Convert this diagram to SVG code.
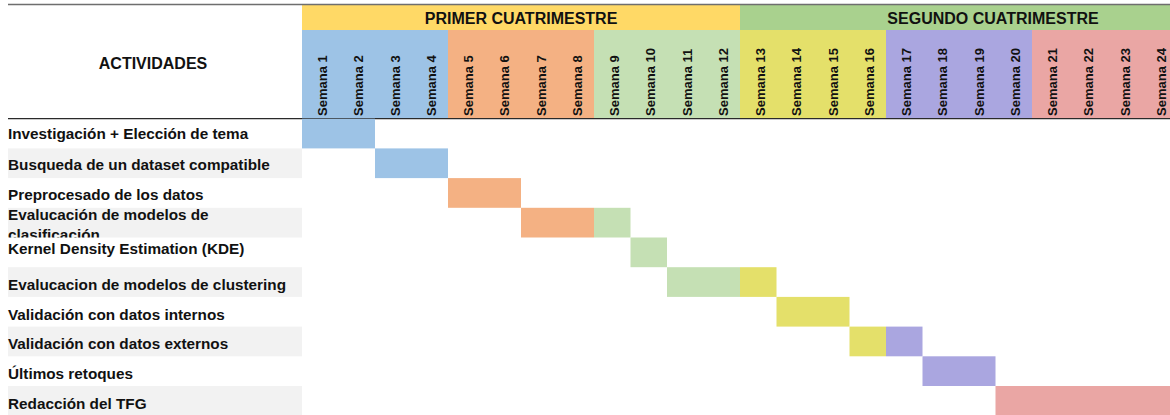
<svg xmlns="http://www.w3.org/2000/svg" width="1170" height="415" viewBox="0 0 1170 415">
<style>
  .lbl{font-family:"Liberation Sans",Arial,sans-serif;font-weight:bold;font-size:15.3px;fill:#111}
  .hdr{font-family:"Liberation Sans",Arial,sans-serif;font-weight:bold;font-size:16px;fill:#111}
  .wk{font-family:"Liberation Sans",Arial,sans-serif;font-weight:bold;font-size:13px;fill:#111}
  .stripe{fill:#f2f2f2}
  .blue{fill:#9dc3e6}
  .orange{fill:#f4b183}
  .lgreen{fill:#c5e0b4}
  .yellow{fill:#e4e06a}
  .purple{fill:#aaa6e0}
  .pink{fill:#eaa6a4}
</style>
<defs>
  <clipPath id="clipR4"><rect x="0" y="207.8" width="302" height="29.7"/></clipPath>
</defs>
<rect x="0" y="0" width="1170" height="415" fill="#ffffff"/>

<g id="header">
  <rect x="302" y="5" width="438" height="25" fill="#ffd966"/>
  <rect x="740" y="5" width="438" height="25" fill="#a9d18e"/>
  <rect class="blue" x="302" y="30" width="146" height="89"/>
  <rect class="orange" x="448" y="30" width="146" height="89"/>
  <rect class="lgreen" x="594" y="30" width="146" height="89"/>
  <rect class="yellow" x="740" y="30" width="146" height="89"/>
  <rect class="purple" x="886" y="30" width="146" height="89"/>
  <rect class="pink" x="1032" y="30" width="146" height="89"/>
  <line x1="8" y1="4.5" x2="1170" y2="4.5" stroke="#6e6e6e" stroke-width="1.6"/>
  <line x1="8" y1="118.6" x2="1170" y2="118.6" stroke="#2a2a2a" stroke-width="1.2"/>
  <text class="hdr" x="153" y="69" text-anchor="middle">ACTIVIDADES</text>
  <text class="hdr" x="521" y="23.5" text-anchor="middle">PRIMER CUATRIMESTRE</text>
  <text class="hdr" x="993" y="23.5" text-anchor="middle">SEGUNDO CUATRIMESTRE</text>
  <g class="wk">
    <text transform="translate(326.5,116) rotate(-90)">Semana 1</text>
    <text transform="translate(363,116) rotate(-90)">Semana 2</text>
    <text transform="translate(399.5,116) rotate(-90)">Semana 3</text>
    <text transform="translate(436,116) rotate(-90)">Semana 4</text>
    <text transform="translate(472.5,116) rotate(-90)">Semana 5</text>
    <text transform="translate(509,116) rotate(-90)">Semana 6</text>
    <text transform="translate(545.5,116) rotate(-90)">Semana 7</text>
    <text transform="translate(582,116) rotate(-90)">Semana 8</text>
    <text transform="translate(618.5,116) rotate(-90)">Semana 9</text>
    <text transform="translate(655,116) rotate(-90)">Semana 10</text>
    <text transform="translate(691.5,116) rotate(-90)">Semana 11</text>
    <text transform="translate(728,116) rotate(-90)">Semana 12</text>
    <text transform="translate(764.5,116) rotate(-90)">Semana 13</text>
    <text transform="translate(801,116) rotate(-90)">Semana 14</text>
    <text transform="translate(837.5,116) rotate(-90)">Semana 15</text>
    <text transform="translate(874,116) rotate(-90)">Semana 16</text>
    <text transform="translate(910.5,116) rotate(-90)">Semana 17</text>
    <text transform="translate(947,116) rotate(-90)">Semana 18</text>
    <text transform="translate(983.5,116) rotate(-90)">Semana 19</text>
    <text transform="translate(1020,116) rotate(-90)">Semana 20</text>
    <text transform="translate(1056.5,116) rotate(-90)">Semana 21</text>
    <text transform="translate(1093,116) rotate(-90)">Semana 22</text>
    <text transform="translate(1129.5,116) rotate(-90)">Semana 23</text>
    <text transform="translate(1166,116) rotate(-90)">Semana 24</text>
  </g>
</g>

<g id="row1">
  <text class="lbl" x="8" y="139">Investigación + Elección de tema</text>
  <rect class="blue" x="302" y="118.7" width="73" height="29.7"/>
</g>
<g id="row2">
  <rect class="stripe" x="8" y="148.4" width="294" height="29.7"/>
  <text class="lbl" x="8" y="169.5">Busqueda de un dataset compatible</text>
  <rect class="blue" x="375" y="148.4" width="73" height="29.7"/>
</g>
<g id="row3">
  <text class="lbl" x="8" y="199.5">Preprocesado de los datos</text>
  <rect class="orange" x="448" y="178.1" width="73" height="29.7"/>
</g>
<g id="row4">
  <rect class="stripe" x="8" y="207.8" width="294" height="29.7"/>
  <g clip-path="url(#clipR4)">
    <text class="lbl" x="8" y="220">Evalucación de modelos de</text>
    <text class="lbl" x="8" y="239.5">clasificación</text>
  </g>
  <rect class="orange" x="521" y="207.8" width="73" height="29.7"/>
  <rect class="lgreen" x="594" y="207.8" width="36.5" height="29.7"/>
</g>
<g id="row5">
  <text class="lbl" x="8" y="253.5">Kernel Density Estimation (KDE)</text>
  <rect class="lgreen" x="630.5" y="237.5" width="36.5" height="29.7"/>
</g>
<g id="row6">
  <rect class="stripe" x="8" y="267.2" width="294" height="29.7"/>
  <text class="lbl" x="8" y="290">Evalucacion de modelos de clustering</text>
  <rect class="lgreen" x="667" y="267.2" width="73" height="29.7"/>
  <rect class="yellow" x="740" y="267.2" width="36.5" height="29.7"/>
</g>
<g id="row7">
  <text class="lbl" x="8" y="319.5">Validación con datos internos</text>
  <rect class="yellow" x="776.5" y="296.9" width="73" height="29.7"/>
</g>
<g id="row8">
  <rect class="stripe" x="8" y="326.6" width="294" height="29.7"/>
  <text class="lbl" x="8" y="349">Validación con datos externos</text>
  <rect class="yellow" x="849.5" y="326.6" width="36.5" height="29.7"/>
  <rect class="purple" x="886" y="326.6" width="36.5" height="29.7"/>
</g>
<g id="row9">
  <text class="lbl" x="8" y="378.5">Últimos retoques</text>
  <rect class="purple" x="922.5" y="356.3" width="73" height="29.7"/>
</g>
<g id="row10">
  <rect class="stripe" x="8" y="386" width="294" height="29.7"/>
  <text class="lbl" x="8" y="408.5">Redacción del TFG</text>
  <rect class="pink" x="995.5" y="386" width="182.5" height="29.7"/>
</g>
</svg>
